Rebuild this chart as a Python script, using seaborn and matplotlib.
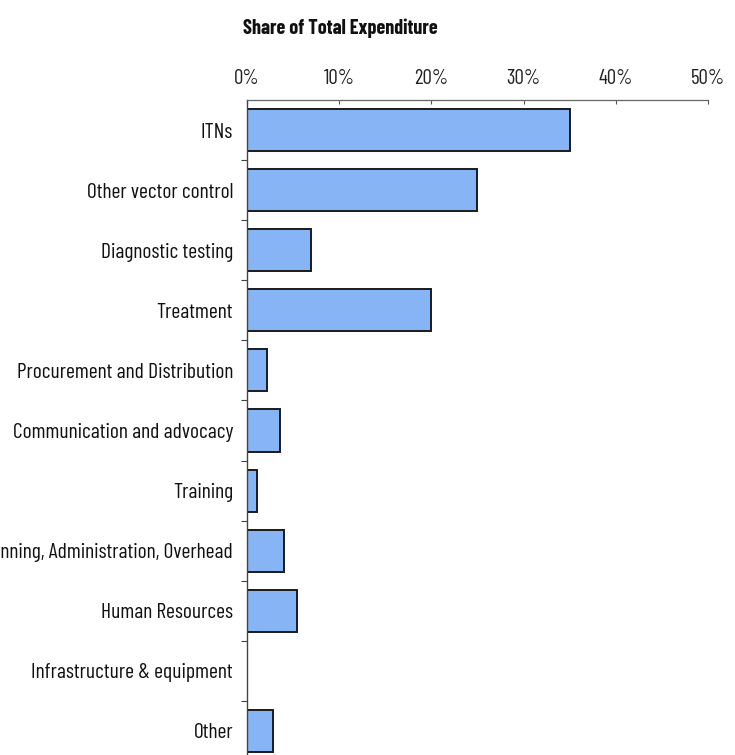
import matplotlib
matplotlib.use("Agg")
import matplotlib.pyplot as plt
import seaborn as sns
import pandas as pd
import numpy as np
from matplotlib.ticker import FixedLocator

categories = ["ITNs", "Other vector control", "Diagnostic testing", "Treatment",
              "Procurement and Distribution", "Communication and advocacy", "Training",
              "Planning, Administration, Overhead", "Human Resources",
              "Infrastructure & equipment", "Other"]
shares = [35.0, 24.9, 6.9, 20.0, 2.2, 3.6, 1.1, 4.0, 5.4, 0.0, 2.8]
xticks = [0, 10, 20, 30, 40, 50]
xtick_labels = ["0%", "10%", "20%", "30%", "40%", "50%"]

df = pd.DataFrame({"category": categories, "share": shares})

sns.set_theme(style="white")
plt.rcParams["font.family"] = ["Barlow Condensed", "DejaVu Sans"]

fig = plt.figure(figsize=(7.35, 7.55), dpi=100)
ax = fig.add_axes([247/735, -6/755, (708-247)/735, (755-100+6)/755])

sns.barplot(data=df, x="share", y="category", orient="h", color="#86b4f4",
            edgecolor="#1a1a1a", linewidth=1.4, width=0.7, saturation=1, ax=ax)

ax.set_xlim(0, 50)
ax.set_ylim(len(categories) - 0.5, -0.5)
ax.xaxis.set_ticks_position("top")
ax.xaxis.set_label_position("top")
ax.set_xticks(xticks)
ax.set_xticklabels(xtick_labels, fontsize=15, color="#222222")
ax.tick_params(axis="x", direction="in", length=3, width=0.8, pad=9, colors="#555555",
               labelcolor="#222222")
ax.set_yticks(range(len(categories)))
ax.set_yticklabels(categories, fontsize=15.5, color="#111111")
ax.tick_params(axis="y", which="major", length=0, pad=10)
ax.yaxis.set_minor_locator(FixedLocator(np.arange(0.5, len(categories) - 0.5, 1)))
ax.tick_params(axis="y", which="minor", left=True, length=4, width=0.8, color="#444444")
ax.set_xlabel("")
ax.set_ylabel("")

for side in ["right", "bottom"]:
    ax.spines[side].set_visible(False)
ax.spines["top"].set_color("#666666")
ax.spines["top"].set_linewidth(0.9)
ax.spines["left"].set_color("#444444")
ax.spines["left"].set_linewidth(1.0)

fig.text(243/735, 1 - 28/755, "Share of Total Expenditure", fontsize=14.5,
         fontweight="bold", ha="left", va="center", color="#111111")

fig.savefig("out.png", dpi=100)
